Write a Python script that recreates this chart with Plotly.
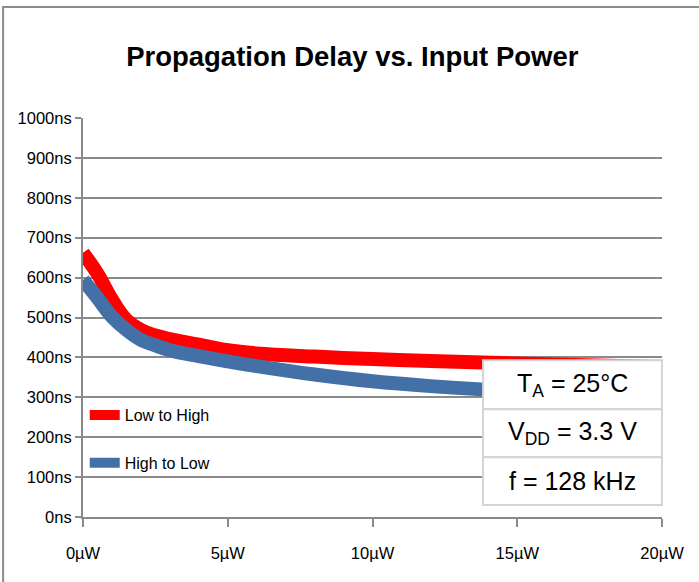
import plotly.graph_objects as go

power_uw = [0, 0.5, 1, 1.5, 2, 2.5, 3, 4, 5, 6, 8, 10, 12, 15, 17, 20]
low_to_high = [662, 610, 545, 494, 469, 455, 446, 432, 418, 410, 402, 396, 391, 385, 381, 376]
high_to_low = [594, 549, 502, 469, 444, 430, 418, 403, 390, 378, 357, 340, 328, 315, 311, 309]

y_ticks = list(range(0, 1001, 100))
y_labels = [f"{v}ns" for v in y_ticks]
x_ticks = [0, 5, 10, 15, 20]
x_labels = [f"{v}µW" for v in x_ticks]

series_names = ["Low to High", "High to Low"]
series_colors = ["#FF0000", "#4470A8"]
cond_lines = ["T<sub>A</sub> = 25°C", "V<sub>DD</sub> = 3.3 V", "f = 128 kHz"]

FONT = "Liberation Sans, Arial, sans-serif"

fig = go.Figure()
for name, ys, col in zip(series_names, [low_to_high, high_to_low], series_colors):
    fig.add_trace(go.Scatter(
        x=power_uw, y=ys, name=name, mode="lines",
        line=dict(color=col, width=14, shape="spline", smoothing=1.2),
        legendgroup=name,
    ))

fig.update_layout(
    width=699, height=582,
    paper_bgcolor="white", plot_bgcolor="white",
    margin=dict(l=83, r=37, t=118, b=65, autoexpand=False),
    title=dict(text="<b>Propagation Delay vs. Input Power</b>", x=0.504, xanchor="center",
               y=0.903, yanchor="middle", yref="container",
               font=dict(family=FONT, size=27.5, color="black")),
    font=dict(family=FONT, size=16, color="black"),
    showlegend=True,
    legend=dict(x=0.003, xanchor="left", y=0.298, yanchor="top", bgcolor="rgba(0,0,0,0)",
                tracegroupgap=24, font=dict(family=FONT, size=16, color="black"),
                itemwidth=30),
    xaxis=dict(range=[0, 20], tickvals=x_ticks, ticktext=x_labels, showgrid=False,
               showline=True, linecolor="#8A8A8A", linewidth=2, ticks="outside",
               ticklen=8, tickcolor="#8A8A8A", tickwidth=2, ticklabelstandoff=12,
               zeroline=False, automargin=False, tickfont=dict(family=FONT, size=16.5)),
    yaxis=dict(range=[0, 1000], tickvals=y_ticks, ticktext=y_labels, showgrid=True,
               gridcolor="#8A8A8A", gridwidth=2, showline=True, linecolor="#8A8A8A",
               linewidth=2, ticks="outside", ticklen=6, tickcolor="#8A8A8A", tickwidth=2,
               zeroline=False, automargin=False, tickfont=dict(family=FONT, size=16.5)),
)

# conditions box
box_x0, box_x1 = 0.691, 1.0
rows = [(0.27, 0.393), (0.15, 0.27), (0.03, 0.15)]
for (y0, y1), txt in zip(rows, cond_lines):
    fig.add_shape(type="rect", xref="paper", yref="paper", x0=box_x0, x1=box_x1, y0=y0, y1=y1,
                  fillcolor="white", line=dict(color="#D4D4D4", width=2), layer="above")
    fig.add_annotation(xref="paper", yref="paper", x=(box_x0 + box_x1) / 2, y=(y0 + y1) / 2,
                       text=txt, showarrow=False, font=dict(family=FONT, size=25, color="black"),
                       xanchor="center", yanchor="middle")

# outer chart border
fig.add_shape(type="rect", xref="paper", yref="paper", x0=-0.138, x1=1.09, y0=-0.19, y1=1.278,
              line=dict(color="#8C8C8C", width=2), fillcolor="rgba(0,0,0,0)", layer="above")

fig.write_html("out.html", config={"displayModeBar": False},
               post_script="document.body.style.margin='0';")
